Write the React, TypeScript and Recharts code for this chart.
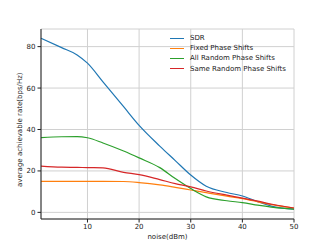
import React from 'react';
import { LineChart, Line, XAxis, YAxis, CartesianGrid } from 'recharts';

const noise = [1, 5, 8, 10, 13, 17, 20, 24, 27, 30, 33, 37, 40, 43, 46, 50];
const sdr = [84, 79.5, 76, 72, 63, 51, 42, 32, 25, 18, 12.6, 9.6, 7.9, 5.2, 2.8, 1.6];
const fixedPS = [15, 15, 15, 15, 15, 14.9, 14.4, 13.3, 12.1, 10.8, 9.5, 7.8, 6.6, 5.1, 3.6, 2.1];
const allRandom = [36.1, 36.5, 36.6, 36, 33.5, 29.6, 26.3, 21.6, 16.3, 11.5, 7.5, 5.6, 4.7, 3.5, 2.4, 1.6];
const sameRandom = [22.3, 21.8, 21.7, 21.6, 21.5, 19.3, 18.2, 15.8, 13.9, 12.3, 10.3, 8.3, 6.9, 5.4, 3.8, 2.1];
const xTicks = [10, 20, 30, 40, 50];
const yTicks = [0, 20, 40, 60, 80];

const seriesNames = ['SDR', 'Fixed Phase Shifts', 'All Random Phase Shifts', 'Same Random Phase Shifts'];
const seriesKeys = ['sdr', 'fixed', 'allRandom', 'sameRandom'];
const seriesColors = ['#1f77b4', '#ff7f0e', '#2ca02c', '#d62728'];

const data = noise.map((n, i) => ({
  noise: n,
  sdr: sdr[i],
  fixed: fixedPS[i],
  allRandom: allRandom[i],
  sameRandom: sameRandom[i],
}));

const FONT = 'DejaVu Sans, sans-serif';

const LegendBox = () => (
  <div style={{ position: 'absolute', left: 170, top: 33, fontFamily: FONT, fontSize: 7, color: '#222' }}>
    {seriesNames.map((name, i) => (
      <div key={name} style={{ display: 'flex', alignItems: 'center', height: 10.2, whiteSpace: 'nowrap' }}>
        <div style={{ width: 14, height: 0, borderTop: `1.3px solid ${seriesColors[i]}`, marginRight: 6 }} />
        <span>{name}</span>
      </div>
    ))}
  </div>
);

export default function App() {
  return (
    <div style={{ position: 'absolute', left: 0, top: 0, width: 327, height: 245, background: '#fff' }}>
      <LineChart
        width={327}
        height={245}
        data={data}
        margin={{ top: 29, right: 33, bottom: 0, left: 0 }}
      >
        <CartesianGrid stroke="#d0d0d0" strokeWidth={1} xAxisId="b" yAxisId="l" />
        <XAxis
          xAxisId="b"
          dataKey="noise"
          type="number"
          domain={[1, 50]}
          ticks={xTicks}
          height={26}
          tick={{ fontSize: 7, fill: '#222', fontFamily: FONT }}
          tickLine={{ stroke: '#222' }}
          tickSize={3.5}
          axisLine={{ stroke: '#222' }}
          label={{ value: 'noise(dBm)', position: 'insideBottom', offset: 6, fontSize: 7, fill: '#222', fontFamily: FONT }}
        />
        <XAxis xAxisId="t" orientation="top" dataKey="noise" type="number" domain={[1, 50]} tick={false} tickLine={false} axisLine={{ stroke: '#222' }} height={0} />
        <YAxis
          yAxisId="l"
          type="number"
          domain={[-3.2, 88.5]}
          ticks={yTicks}
          width={41}
          tick={{ fontSize: 7, fill: '#222', fontFamily: FONT }}
          tickLine={{ stroke: '#222' }}
          tickSize={3.5}
          axisLine={{ stroke: '#222' }}
          label={{ value: 'average achievable rate(bps/Hz)', angle: -90, position: 'insideLeft', offset: 20, dy: 63, fontSize: 7, fill: '#222', fontFamily: FONT }}
        />
        <YAxis yAxisId="r" orientation="right" type="number" domain={[-3.2, 88.5]} tick={false} tickLine={false} axisLine={{ stroke: '#222' }} width={0} />
        {seriesKeys.map((k, i) => (
          <Line
            key={k}
            xAxisId="b"
            yAxisId="l"
            dataKey={k}
            name={seriesNames[i]}
            type="monotone"
            stroke={seriesColors[i]}
            strokeWidth={1.2}
            dot={false}
            isAnimationActive={false}
          />
        ))}
      </LineChart>
      <LegendBox />
    </div>
  );
}
